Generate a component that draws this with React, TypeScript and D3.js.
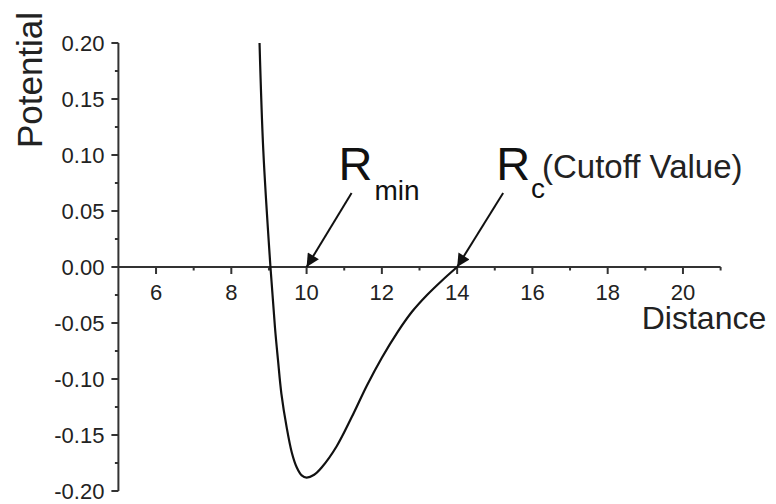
import React from "react";
import * as d3 from "d3";

// Truncated pair potential sampled along the distance axis
const distance = [8.75, 8.85, 9.04, 9.16, 9.24, 9.33, 9.47, 9.61, 9.74, 9.87, 10.0, 10.2, 10.4, 10.8, 11.2, 11.6, 12.0, 12.4, 12.8, 13.2, 13.6, 14.0];
const potential = [0.2, 0.104, 0.0, -0.054, -0.083, -0.113, -0.143, -0.166, -0.179, -0.186, -0.188, -0.1855, -0.179, -0.16, -0.134, -0.106, -0.081, -0.059, -0.04, -0.025, -0.012, 0.0];

const xTicks = [6, 8, 10, 12, 14, 16, 18, 20];
const xMinorTicks = [7, 9, 11, 13, 15, 17, 19, 21];
const yTicks = [-0.2, -0.15, -0.1, -0.05, 0.0, 0.05, 0.1, 0.15, 0.2];
const yMinorTicks = [-0.175, -0.125, -0.075, -0.025, 0.025, 0.075, 0.125, 0.175];

const rMin = 10;
const rCut = 14;

const W = 776;
const H = 504;
const FONT = "'Liberation Sans', Arial, Helvetica, sans-serif";
const INK = "#222";

// plain hyphen for negatives, two decimals
const fmtY = (v: number) => {
  const s = Math.abs(v).toFixed(2);
  return v < -1e-9 ? `-${s}` : s;
};

export default function App() {
  const x = d3.scaleLinear().domain([5, 21]).range([118.4, 720.6]);
  const y = d3.scaleLinear().domain([-0.2, 0.2]).range([491, 43]);

  const pts: [number, number][] = distance.map((d, i) => [d, potential[i]]);
  const line = d3
    .line<[number, number]>()
    .x((d) => x(d[0]))
    .y((d) => y(d[1]))
    .curve(d3.curveCatmullRom.alpha(0.5));

  const y0 = y(0);
  const xLeft = x(5);

  return (
    <svg
      width={W}
      height={H}
      viewBox={`0 0 ${W} ${H}`}
      style={{ position: "absolute", left: 0, top: 0, background: "#fff" }}
      fontFamily={FONT}
    >
      <defs>
        <marker
          id="head"
          viewBox="0 0 10 10"
          refX={10}
          refY={5}
          markerWidth={15}
          markerHeight={13}
          markerUnits="userSpaceOnUse"
          orient="auto"
        >
          <path d="M0,0 L10,5 L0,10 z" fill="#111" />
        </marker>
      </defs>

      {/* y axis */}
      <line x1={xLeft} x2={xLeft} y1={y(0.2)} y2={y(-0.2)} stroke="#333" strokeWidth={2} />
      {yTicks.map((t) => (
        <g key={`y${t}`}>
          <line x1={xLeft - 7} x2={xLeft} y1={y(t)} y2={y(t)} stroke="#333" strokeWidth={2} />
          <text
            x={xLeft - 14}
            y={y(t)}
            dy="0.36em"
            textAnchor="end"
            fontSize={22}
            fill={INK}
          >
            {fmtY(t)}
          </text>
        </g>
      ))}
      {yMinorTicks.map((t) => (
        <line key={`ym${t}`} x1={xLeft - 3.5} x2={xLeft} y1={y(t)} y2={y(t)} stroke="#333" strokeWidth={2} />
      ))}

      {/* x axis drawn through zero */}
      <line x1={xLeft} x2={x(21)} y1={y0} y2={y0} stroke="#333" strokeWidth={2} />
      {xTicks.map((t) => (
        <g key={`x${t}`}>
          <line x1={x(t)} x2={x(t)} y1={y0} y2={y0 + 7} stroke="#333" strokeWidth={2} />
          <text x={x(t)} y={y0 + 33} textAnchor="middle" fontSize={22} fill={INK}>
            {t}
          </text>
        </g>
      ))}
      {xMinorTicks.map((t) => (
        <line key={`xm${t}`} x1={x(t)} x2={x(t)} y1={y0} y2={y0 + 3.5} stroke="#333" strokeWidth={2} />
      ))}

      {/* axis titles */}
      <text x={704} y={329} textAnchor="middle" fontSize={32} fill={INK}>
        Distance
      </text>
      <text
        transform={`translate(42,80) rotate(-90)`}
        textAnchor="middle"
        fontSize={35}
        fill={INK}
      >
        Potential
      </text>

      {/* potential curve */}
      <path d={line(pts) ?? ""} fill="none" stroke="#111" strokeWidth={2.2} strokeLinejoin="round" />

      {/* R_min marker */}
      <line
        x1={x(rMin) + 45}
        y1={y0 - 74}
        x2={x(rMin)}
        y2={y0}
        stroke="#111"
        strokeWidth={2}
        markerEnd="url(#head)"
      />
      <text x={x(rMin) + 32} y={180} fill="#111" fontSize={47}>
        R
        <tspan fontSize={28} dx={2} dy={20}>
          min
        </tspan>
      </text>

      {/* R_c marker */}
      <line
        x1={x(rCut) + 46}
        y1={y0 - 74}
        x2={x(rCut)}
        y2={y0}
        stroke="#111"
        strokeWidth={2}
        markerEnd="url(#head)"
      />
      <text x={x(rCut) + 39} y={180} fill="#111" fontSize={47}>
        R
        <tspan fontSize={28} dx={1} dy={18}>
          c
        </tspan>
      </text>
      <text x={542} y={178} fill={INK} fontSize={33}>
        (Cutoff Value)
      </text>
    </svg>
  );
}
